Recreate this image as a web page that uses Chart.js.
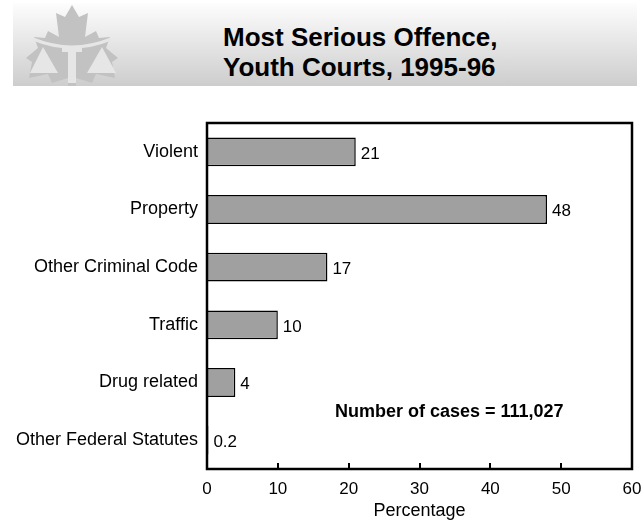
<!DOCTYPE html>
<html lang="en">
<head>
<meta charset="UTF-8">
<title>Most Serious Offence, Youth Courts, 1995-96</title>
<script src="https://cdn.jsdelivr.net/npm/chart.js"></script>
<style>
  body { margin: 0; background: #fff; font-family: "Liberation Sans", Arial, sans-serif; }
  .page { position: relative; width: 644px; height: 522px; overflow: hidden; }
  .banner {
    position: absolute; left: 13px; top: 3px; width: 624px; height: 83px;
    background: linear-gradient(to bottom, #fdfdfd, #cdcdcd);
  }
  .banner svg { position: absolute; left: 0; top: 0; }
  .banner h1 {
    position: absolute; left: 210px; top: 19px; margin: 0;
    font-size: 25px; line-height: 30px; font-weight: bold; color: #000;
    transform: scaleX(1.04); transform-origin: left top;
  }
  #chart { position: absolute; left: 0; top: 0; }
</style>
</head>
<body>
<div class="page">
  <!-- header band with leaf emblem -->
  <div class="banner">
    <svg width="130" height="83" viewBox="0 0 130 83">
      <polygon fill="#c2c2c2" points="59,2 66,14 75,10 72,34 83,28 86,35 97,34 93,45 105,55 99,59 102,75 83,71 79,80 63,75 63,83 55,83 55,75 39,80 35,71 16,75 19,59 13,55 25,45 21,34 32,35 35,28 46,34 43,10 52,14"/>
      <path d="M20,36 Q59,52 98,36" stroke="#e6e6e6" stroke-width="3" fill="none"/>
      <polygon fill="#e6e6e6" points="17,70 30,44 45,70"/>
      <polygon fill="#e6e6e6" points="74,70 89,44 103,70"/>
      <rect x="55" y="47" width="8" height="33" fill="#e6e6e6"/>
      <rect x="49" y="45" width="20" height="4" fill="#e6e6e6"/>
    </svg>
    <h1>Most Serious Offence,<br>Youth Courts, 1995-96</h1>
  </div>
  <canvas id="chart" width="644" height="522"></canvas>
</div>

<script>
// offence categories and share of cases (%)
const categories = ['Violent', 'Property', 'Other Criminal Code', 'Traffic', 'Drug related', 'Other Federal Statutes'];
const percentages = [21, 48, 17, 10, 4, 0.2];
const xTicks = [0, 10, 20, 30, 40, 50, 60];
const caseNote = 'Number of cases = 111,027';

const FONT = '"Liberation Sans", Arial, sans-serif';

// box around plot area, inward ticks on the x axis, value labels, note
const decorations = {
  id: 'decorations',
  afterDatasetsDraw(chart) {
    const { ctx, chartArea: a } = chart;
    const xs = chart.scales.x;
    ctx.save();

    // value labels at bar ends
    ctx.font = '17px ' + FONT;
    ctx.fillStyle = '#000';
    ctx.textBaseline = 'middle';
    ctx.textAlign = 'left';
    chart.getDatasetMeta(0).data.forEach((bar, i) => {
      ctx.fillText(String(percentages[i]), bar.x + 5, bar.y + 2);
    });

    // frame
    ctx.strokeStyle = '#000';
    ctx.lineWidth = 2.5;
    ctx.strokeRect(a.left, a.top, a.right - a.left, a.bottom - a.top);

    // tick marks pointing into the plot
    ctx.lineWidth = 2;
    xTicks.slice(1, -1).forEach(v => {
      const px = Math.round(xs.getPixelForValue(v));
      ctx.beginPath();
      ctx.moveTo(px, a.bottom);
      ctx.lineTo(px, a.bottom - 6);
      ctx.stroke();
    });

    // case count note
    ctx.font = 'bold 18px ' + FONT;
    ctx.textAlign = 'center';
    ctx.textBaseline = 'alphabetic';
    ctx.fillText(caseNote, xs.getPixelForValue(34.2), chart.scales.y.getPixelForValue(4) + 34);

    ctx.restore();
  }
};

new Chart(document.getElementById('chart'), {
  type: 'bar',
  data: {
    labels: categories,
    datasets: [{
      data: percentages,
      backgroundColor: '#a0a0a0',
      borderColor: '#000',
      borderWidth: 1.5,
      barPercentage: 0.5,
      categoryPercentage: 1
    }]
  },
  options: {
    indexAxis: 'y',
    responsive: false,
    animation: false,
    layout: { padding: { top: 123, right: 12, left: 0, bottom: 0 } },
    plugins: {
      legend: { display: false },
      tooltip: { enabled: false }
    },
    scales: {
      x: {
        min: 0,
        max: 60,
        afterBuildTicks(scale) { scale.ticks = xTicks.map(v => ({ value: v })); },
        afterFit(scale) {
          scale.height = 53;
          scale.paddingLeft = 0;
          scale.paddingRight = 0;
        },
        grid: { display: false, drawTicks: false },
        border: { display: false },
        ticks: { color: '#000', padding: 10, maxRotation: 0, font: { family: FONT, size: 17 } },
        title: {
          display: true,
          text: 'Percentage',
          color: '#000',
          padding: { top: 0, bottom: 0 },
          font: { family: FONT, size: 18 }
        }
      },
      y: {
        afterFit(scale) { scale.width = 207; },
        grid: { display: false, drawTicks: false },
        border: { display: false },
        ticks: { color: '#000', padding: 9, font: { family: FONT, size: 18 } }
      }
    }
  },
  plugins: [decorations]
});
</script>
</body>
</html>
